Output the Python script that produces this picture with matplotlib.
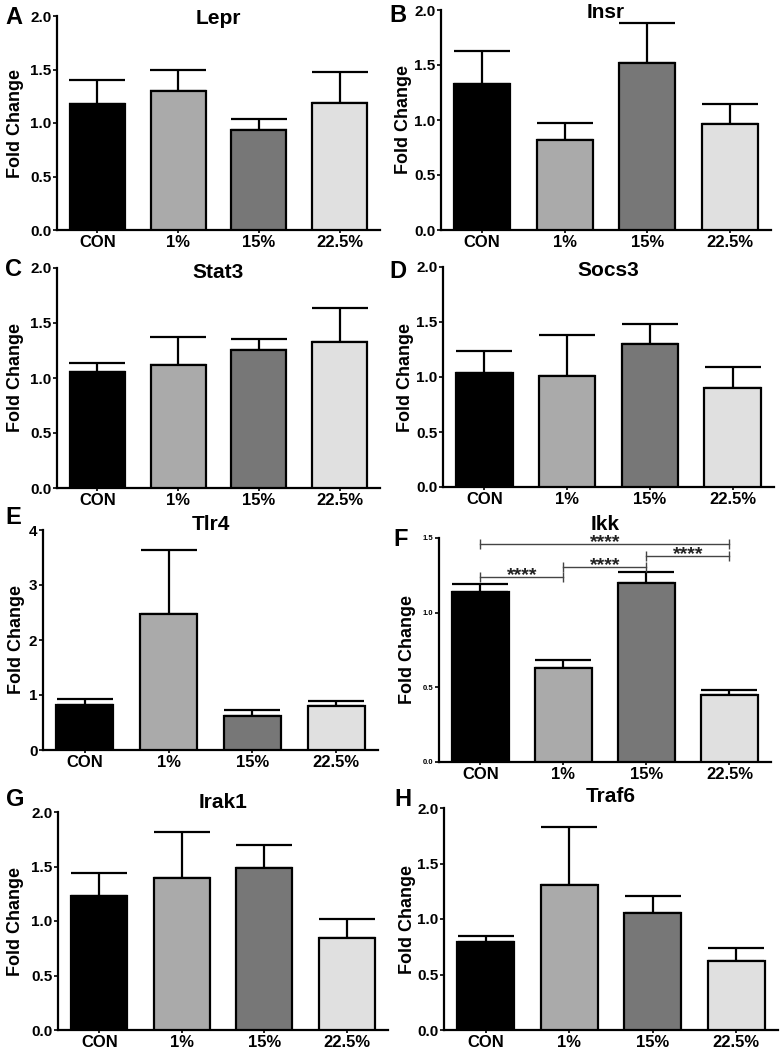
import matplotlib
matplotlib.use("Agg")
import matplotlib.pyplot as plt
import numpy as np

plt.rcParams['font.family'] = ['Liberation Sans', 'DejaVu Sans']
plt.rcParams['font.weight'] = 'bold'

groups = ["CON", "1%", "15%", "22.5%"]
colors = ["#000000", "#aaaaaa", "#777777", "#e0e0e0"]

lepr_mean = [1.18, 1.30, 0.93, 1.19]
lepr_sem = [0.22, 0.20, 0.11, 0.29]
insr_mean = [1.33, 0.82, 1.52, 0.96]
insr_sem = [0.30, 0.15, 0.36, 0.19]
stat3_mean = [1.05, 1.12, 1.25, 1.33]
stat3_sem = [0.09, 0.25, 0.10, 0.31]
socs3_mean = [1.04, 1.01, 1.30, 0.90]
socs3_sem = [0.20, 0.37, 0.18, 0.19]
tlr4_mean = [0.82, 2.47, 0.62, 0.80]
tlr4_sem = [0.11, 1.16, 0.10, 0.10]
ikk_mean = [1.14, 0.63, 1.20, 0.45]
ikk_sem = [0.05, 0.05, 0.07, 0.03]
irak1_mean = [1.23, 1.39, 1.49, 0.84]
irak1_sem = [0.21, 0.43, 0.21, 0.18]
traf6_mean = [0.79, 1.31, 1.05, 0.62]
traf6_sem = [0.06, 0.52, 0.16, 0.12]

# significance brackets for Ikk: (start group, end group, height, label)
ikk_sig_start = [0, 2, 1, 0]
ikk_sig_end = [3, 3, 2, 1]
ikk_sig_y = [1.460, 1.379, 1.306, 1.239]
ikk_sig_label = ["****", "****", "****", "****"]

W, H = 782, 1050
fig = plt.figure(figsize=(W / 100, H / 100), dpi=100)


def px_axes(left, right, top, bottom):
    return fig.add_axes([left / W, (H - bottom) / H, (right - left) / W, (bottom - top) / H])


def fig_text(x, y, s, **kw):
    fig.text(x / W, (H - y) / H, s, **kw)


panels = [
    # letter, title, means, sems, ymax, yticks, rect(l,r,t,b), letter pos, title y, ylabel x, ticksize
    ("A", "Lepr", lepr_mean, lepr_sem, 2.0, [0, 0.5, 1.0, 1.5, 2.0], (57, 380, 16, 230), (14, 17), 19, 16, 11),
    ("B", "Insr", insr_mean, insr_sem, 2.0, [0, 0.5, 1.0, 1.5, 2.0], (441, 771, 10, 230), (398, 15), 12, 404, 11),
    ("C", "Stat3", stat3_mean, stat3_sem, 2.0, [0, 0.5, 1.0, 1.5, 2.0], (57, 380, 268, 488), (14, 270), 272, 16, 11),
    ("D", "Socs3", socs3_mean, socs3_sem, 2.0, [0, 0.5, 1.0, 1.5, 2.0], (443, 774, 267, 487), (398, 272), 271, 405, 11),
    ("E", "Tlr4", tlr4_mean, tlr4_sem, 4.0, [0, 1, 2, 3, 4], (43, 378, 530, 750), (13, 517), 525, 17, 11),
    ("F", "Ikk", ikk_mean, ikk_sem, 1.5, [0, 0.5, 1.0, 1.5], (439, 771, 538, 762), (401, 540), 524, 408, 5.5),
    ("G", "Irak1", irak1_mean, irak1_sem, 2.0, [0, 0.5, 1.0, 1.5, 2.0], (58, 388, 812, 1030), (15, 800), 802, 16, 11),
    ("H", "Traf6", traf6_mean, traf6_sem, 2.0, [0, 0.5, 1.0, 1.5, 2.0], (444, 778, 808, 1030), (403, 800), 797, 407, 11),
]

x = np.arange(len(groups))
for letter, title, means, sems, ymax, yticks, rect, lpos, ty, ylx, tsize in panels:
    l, r, t, b = rect
    ax = px_axes(l, r, t, b)
    ax.bar(x, means, width=0.68, color=colors, edgecolor="black", linewidth=1.6, zorder=3)
    ax.errorbar(x, means, yerr=[np.zeros(len(sems)), sems], fmt="none", ecolor="black",
                elinewidth=1.6, capsize=20, capthick=1.6, zorder=2)
    ax.set_xlim(-0.5, 3.5)
    ax.set_ylim(0, ymax)
    ax.set_yticks(yticks)
    if ymax == 4.0:
        ax.set_yticklabels([f"{v:d}" for v in yticks])
    else:
        ax.set_yticklabels([f"{v:.1f}" for v in yticks])
    ax.set_xticks(x)
    ax.set_xticklabels(groups)
    for s in ["top", "right"]:
        ax.spines[s].set_visible(False)
    for s in ["left", "bottom"]:
        ax.spines[s].set_linewidth(1.6)
    ax.tick_params(axis="y", length=3, width=1.2, pad=1, labelsize=tsize)
    ax.tick_params(axis="x", length=2, width=1.2, pad=1.5, labelsize=12)
    for lab in ax.get_xticklabels() + ax.get_yticklabels():
        lab.set_fontweight("bold")
    fig_text(ylx, (t + b) / 2, "Fold Change", rotation=90, ha="center", va="center",
             fontsize=13, fontweight="bold")
    fig_text(lpos[0], lpos[1], letter, ha="center", va="center", fontsize=17, fontweight="bold")
    fig_text((l + r) / 2, ty, title, ha="center", va="center", fontsize=15, fontweight="bold")

    if title == "Ikk":
        for s0, s1, yy, lab in zip(ikk_sig_start, ikk_sig_end, ikk_sig_y, ikk_sig_label):
            ax.plot([s0, s1], [yy, yy], color="#444444", lw=1.0, clip_on=False, zorder=4)
            ax.plot([s0, s1], [yy, yy], linestyle="none", marker="|", markersize=7,
                    markeredgewidth=1.0, color="#444444", clip_on=False, zorder=4)
            ax.annotate(lab, xy=((s0 + s1) / 2, yy), xytext=(0, -2.5), textcoords="offset points",
                        ha="center", va="baseline", fontsize=14, color="#222222",
                        annotation_clip=False)

fig.savefig("out.png", dpi=100)
